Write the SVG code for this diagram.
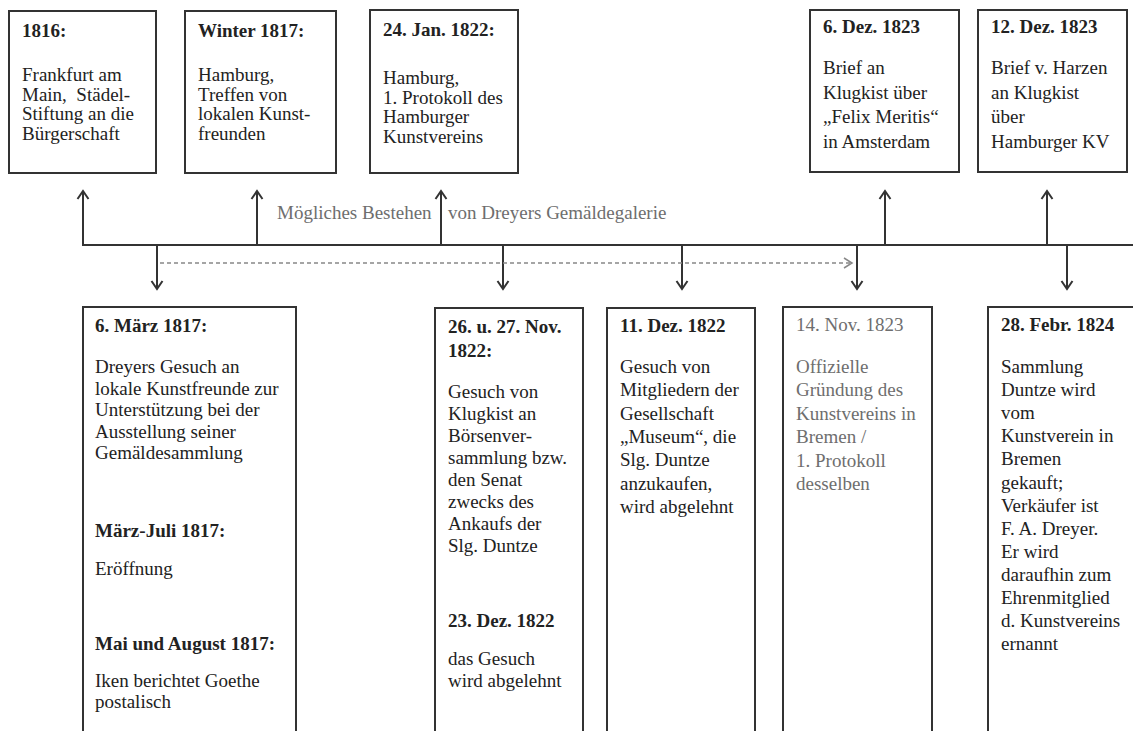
<svg xmlns="http://www.w3.org/2000/svg" width="1133" height="731" viewBox="0 0 1133 731">
<style>
.box{fill:#fff;stroke:#333;stroke-width:2}
.t{font-family:"Liberation Serif","Times New Roman",serif;font-size:19px;fill:#222}
.b{font-weight:bold}
.g{fill:#6e6e6e}
.con{stroke:#333;stroke-width:2;fill:none}
.dash{stroke:#888;stroke-width:1.5;stroke-dasharray:4 3;fill:none}
</style>
<defs>
<marker id="ah" markerUnits="userSpaceOnUse" markerWidth="20" markerHeight="20" viewBox="-10 -10 20 20" refX="0" refY="0" orient="auto">
<path d="M-8,-5.5 L0,0 L-8,5.5" fill="none" stroke="#333" stroke-width="2"/>
</marker>
<marker id="ahg" markerUnits="userSpaceOnUse" markerWidth="20" markerHeight="20" viewBox="-10 -10 20 20" refX="0" refY="0" orient="auto">
<path d="M-8,-5 L0,0 L-8,5" fill="none" stroke="#888" stroke-width="1.5"/>
</marker>
</defs>
<rect width="1133" height="731" fill="#fff"/>

<g id="connectors">
<line class="con" x1="83" y1="245" x2="1133" y2="245"/>
<line class="con" x1="83" y1="246" x2="83" y2="191" marker-end="url(#ah)"/>
<line class="con" x1="257" y1="245" x2="257" y2="191" marker-end="url(#ah)"/>
<line class="con" x1="441" y1="245" x2="441" y2="191" marker-end="url(#ah)"/>
<line class="con" x1="885" y1="245" x2="885" y2="191" marker-end="url(#ah)"/>
<line class="con" x1="1047" y1="245" x2="1047" y2="191" marker-end="url(#ah)"/>
<line class="con" x1="157" y1="245" x2="157" y2="289" marker-end="url(#ah)"/>
<line class="con" x1="503" y1="245" x2="503" y2="289" marker-end="url(#ah)" stroke-width="1.5"/>
<line class="con" x1="682" y1="245" x2="682" y2="289" marker-end="url(#ah)"/>
<line class="con" x1="857" y1="245" x2="857" y2="289" marker-end="url(#ah)"/>
<line class="con" x1="1067" y1="245" x2="1067" y2="289" marker-end="url(#ah)"/>
<line class="dash" x1="160" y1="263" x2="852" y2="263" marker-end="url(#ahg)"/>
<text class="t g" x="277" y="219">Mögliches Bestehen</text>
<text class="t g" x="448" y="219">von Dreyers Gemäldegalerie</text>
</g>

<g id="n1816">
<rect class="box" x="9" y="11" width="147" height="162"/>
<text class="t b" x="22" y="37">1816:</text>
<text class="t" x="22" y="81">Frankfurt am</text>
<text class="t" x="22" y="100.5" xml:space="preserve">Main,  Städel-</text>
<text class="t" x="22" y="120">Stiftung an die</text>
<text class="t" x="22" y="139.5">Bürgerschaft</text>
</g>

<g id="nWinter1817">
<rect class="box" x="185" y="11" width="151" height="162"/>
<text class="t b" x="198" y="37">Winter 1817:</text>
<text class="t" x="198" y="81">Hamburg,</text>
<text class="t" x="198" y="100.5">Treffen von</text>
<text class="t" x="198" y="120">lokalen Kunst-</text>
<text class="t" x="198" y="139.5">freunden</text>
</g>

<g id="nJan1822">
<rect class="box" x="370" y="10" width="148" height="163"/>
<text class="t b" x="383" y="36">24. Jan. 1822:</text>
<text class="t" x="383" y="84">Hamburg,</text>
<text class="t" x="383" y="103.5">1. Protokoll des</text>
<text class="t" x="383" y="123">Hamburger</text>
<text class="t" x="383" y="142.5">Kunstvereins</text>
</g>

<g id="nDez6_1823">
<rect class="box" x="810" y="10" width="149" height="162"/>
<text class="t b" x="823" y="33">6. Dez. 1823</text>
<text class="t" x="823" y="74">Brief an</text>
<text class="t" x="823" y="98.5">Klugkist über</text>
<text class="t" x="823" y="123">„Felix Meritis“</text>
<text class="t" x="823" y="147.5">in Amsterdam</text>
</g>

<g id="nDez12_1823">
<rect class="box" x="978" y="10" width="149" height="162"/>
<text class="t b" x="991" y="33">12. Dez. 1823</text>
<text class="t" x="991" y="74">Brief v. Harzen</text>
<text class="t" x="991" y="98.5">an Klugkist</text>
<text class="t" x="991" y="123">über</text>
<text class="t" x="991" y="147.5">Hamburger KV</text>
</g>

<g id="nMaerz1817">
<rect class="box" x="83" y="307" width="213" height="440"/>
<text class="t b" x="95" y="332">6. März 1817:</text>
<text class="t" x="95" y="373">Dreyers Gesuch an</text>
<text class="t" x="95" y="394.5">lokale Kunstfreunde zur</text>
<text class="t" x="95" y="416">Unterstützung bei der</text>
<text class="t" x="95" y="437.5">Ausstellung seiner</text>
<text class="t" x="95" y="459">Gemäldesammlung</text>
<text class="t b" x="95" y="537">März-Juli 1817:</text>
<text class="t" x="95" y="575">Eröffnung</text>
<text class="t b" x="95" y="650">Mai und August 1817:</text>
<text class="t" x="95" y="687">Iken berichtet Goethe</text>
<text class="t" x="95" y="708">postalisch</text>
</g>

<g id="nNov1822">
<rect class="box" x="435" y="308" width="148" height="440"/>
<text class="t b" x="448" y="333">26. u. 27. Nov.</text>
<text class="t b" x="448" y="357">1822:</text>
<text class="t" x="448" y="398">Gesuch von</text>
<text class="t" x="448" y="420">Klugkist an</text>
<text class="t" x="448" y="442">Börsenver-</text>
<text class="t" x="448" y="464">sammlung bzw.</text>
<text class="t" x="448" y="486">den Senat</text>
<text class="t" x="448" y="508">zwecks des</text>
<text class="t" x="448" y="530">Ankaufs der</text>
<text class="t" x="448" y="552">Slg. Duntze</text>
<text class="t b" x="448" y="627">23. Dez. 1822</text>
<text class="t" x="448" y="665">das Gesuch</text>
<text class="t" x="448" y="687">wird abgelehnt</text>
</g>

<g id="nDez1822">
<rect class="box" x="607" y="308" width="148" height="440"/>
<text class="t b" x="620" y="332">11. Dez. 1822</text>
<text class="t" x="620" y="373">Gesuch von</text>
<text class="t" x="620" y="396.3">Mitgliedern der</text>
<text class="t" x="620" y="419.6">Gesellschaft</text>
<text class="t" x="620" y="442.9">„Museum“, die</text>
<text class="t" x="620" y="466.2">Slg. Duntze</text>
<text class="t" x="620" y="489.5">anzukaufen,</text>
<text class="t" x="620" y="512.8">wird abgelehnt</text>
</g>

<g id="nNov1823">
<rect class="box" x="783" y="307" width="149" height="440"/>
<text class="t g" x="796" y="331">14. Nov. 1823</text>
<text class="t g" x="796" y="373">Offizielle</text>
<text class="t g" x="796" y="396.4">Gründung des</text>
<text class="t g" x="796" y="419.8">Kunstvereins in</text>
<text class="t g" x="796" y="443.2">Bremen /</text>
<text class="t g" x="796" y="466.6">1. Protokoll</text>
<text class="t g" x="796" y="490">desselben</text>
</g>

<g id="nFebr1824">
<rect class="box" x="988" y="307" width="160" height="440"/>
<text class="t b" x="1001" y="331">28. Febr. 1824</text>
<text class="t" x="1001" y="373">Sammlung</text>
<text class="t" x="1001" y="396.1">Duntze wird</text>
<text class="t" x="1001" y="419.2">vom</text>
<text class="t" x="1001" y="442.3">Kunstverein in</text>
<text class="t" x="1001" y="465.4">Bremen</text>
<text class="t" x="1001" y="488.5">gekauft;</text>
<text class="t" x="1001" y="511.6">Verkäufer ist</text>
<text class="t" x="1001" y="534.7">F. A. Dreyer.</text>
<text class="t" x="1001" y="557.8">Er wird</text>
<text class="t" x="1001" y="580.9">daraufhin zum</text>
<text class="t" x="1001" y="604">Ehrenmitglied</text>
<text class="t" x="1001" y="627.1">d. Kunstvereins</text>
<text class="t" x="1001" y="650.2">ernannt</text>
</g>
</svg>
